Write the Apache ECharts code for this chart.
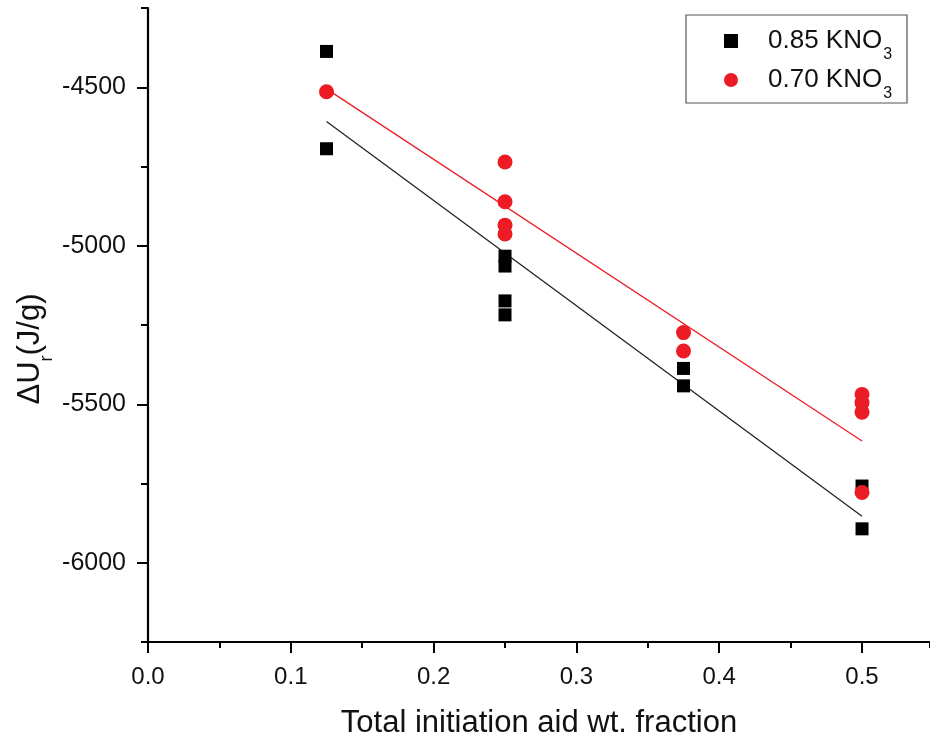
<!DOCTYPE html>
<html>
<head>
<meta charset="utf-8">
<script src="https://cdn.jsdelivr.net/npm/echarts@6/dist/echarts.min.js"></script>
<style>
html,body{margin:0;padding:0;background:#fff;}
#chart{width:930px;height:738px;}
</style>
</head>
<body>
<div id="chart"></div>
<script>
// ---- data ----
const fracBlack = [0.125, 0.125, 0.25, 0.25, 0.25, 0.25, 0.375, 0.375, 0.5, 0.5];
const duBlack   = [-4387, -4694, -5033, -5064, -5174, -5218, -5387, -5442, -5758, -5893];
const fracRed   = [0.125, 0.25, 0.25, 0.25, 0.25, 0.375, 0.375, 0.5, 0.5, 0.5, 0.5];
const duRed     = [-4514, -4736, -4861, -4935, -4963, -5274, -5332, -5469, -5495, -5525, -5778];
const fitX      = [0.125, 0.5];
const fitBlack  = [-4608, -5853];
const fitRed    = [-4505, -5616];
const seriesNames = ['0.85 KNO3', '0.70 KNO3'];
const legendMain  = ['0.85 KNO', '0.70 KNO'];
const legendSub   = ['3', '3'];
const xTitle = 'Total initiation aid wt. fraction';

const FONT = 'Liberation Sans';
const RED = '#ed1c24';

const pairs = (xs, ys) => xs.map((x, i) => [x, ys[i]]);

const chart = echarts.init(document.getElementById('chart'), null, {renderer: 'canvas'});
chart.setOption({
  animation: false,
  backgroundColor: '#fff',
  grid: [
    {left: 148, right: 0, top: 8, bottom: 96, containLabel: false, outerBoundsMode: 'none'},
    {left: 148, width: 714, top: 87.25, bottom: 175.25, containLabel: false, outerBoundsMode: 'none'}
  ],
  graphic: [{
    type: 'rect', z: 10,
    shape: {x: 686, y: 15, width: 221, height: 88},
    style: {fill: 'none', stroke: '#555', lineWidth: 1.2}
  }],
  xAxis: [
    {
      gridIndex: 0, type: 'value', min: 0, max: 0.5476, interval: 0.05,
      axisLine: {show: true, lineStyle: {color: '#000', width: 2.2}},
      axisTick: {show: true, length: 6, lineStyle: {color: '#000', width: 2}},
      axisLabel: {show: false},
      splitLine: {show: false},
      name: xTitle, nameLocation: 'middle', nameGap: 66,
      nameTextStyle: {fontFamily: FONT, fontSize: 31, color: '#111', verticalAlign: 'top'}
    },
    {
      gridIndex: 1, type: 'value', min: 0, max: 0.5, interval: 0.1, offset: 79.25,
      axisLine: {show: false},
      axisTick: {show: true, length: 11, lineStyle: {color: '#000', width: 2}},
      axisLabel: {show: true, margin: 23, fontFamily: FONT, fontSize: 24, color: '#111',
        formatter: v => v.toFixed(1)},
      splitLine: {show: false}
    }
  ],
  yAxis: [
    {
      gridIndex: 0, type: 'value', min: -6250, max: -4250, interval: 250,
      axisLine: {show: true, lineStyle: {color: '#000', width: 2.2}},
      axisTick: {show: true, length: 7, lineStyle: {color: '#000', width: 2}},
      axisLabel: {show: false},
      splitLine: {show: false},
      name: '{a|ΔU}{s|r}{a|(J/g)}', nameLocation: 'middle', nameGap: 102,
      nameTextStyle: {
        fontFamily: FONT, color: '#111', padding: [0, 48, 0, 0],
        rich: {
          a: {fontFamily: FONT, fontSize: 31, color: '#111'},
          s: {fontFamily: FONT, fontSize: 18, color: '#111', verticalAlign: 'bottom', padding: [0, 0, -10, 0]}
        }
      }
    },
    {
      gridIndex: 1, type: 'value', min: -6000, max: -4500, interval: 500,
      axisLine: {show: false},
      axisTick: {show: true, length: 11, lineStyle: {color: '#000', width: 2}},
      axisLabel: {show: true, margin: 22, fontFamily: FONT, fontSize: 25, color: '#111',
        formatter: v => String(v)},
      splitLine: {show: false}
    }
  ],
  legend: {
    left: 686, top: 15, orient: 'vertical',
    padding: [13, 15, 2, 38],
    borderWidth: 0,
    itemWidth: 14, itemHeight: 14, itemGap: 4,
    data: [{name: seriesNames[0], icon: 'rect'}, {name: seriesNames[1], icon: 'circle'}],
    formatter: name => {
      const i = seriesNames.indexOf(name);
      return '{t|' + legendMain[i] + '}{s|' + legendSub[i] + '}';
    },
    textStyle: {
      rich: {
        t: {fontFamily: FONT, fontSize: 26, color: '#111', padding: [0, 0, 0, 25], lineHeight: 26},
        s: {fontFamily: FONT, fontSize: 16, color: '#111', verticalAlign: 'bottom', padding: [0, 0, -9, 1]}
      }
    }
  },
  series: [
    {
      name: 'fitBlack', type: 'line', xAxisIndex: 0, yAxisIndex: 0,
      data: pairs(fitX, fitBlack), symbol: 'none', silent: true,
      lineStyle: {color: '#222', width: 1.3}, z: 1
    },
    {
      name: 'fitRed', type: 'line', xAxisIndex: 0, yAxisIndex: 0,
      data: pairs(fitX, fitRed), symbol: 'none', silent: true,
      lineStyle: {color: RED, width: 1.3}, z: 1
    },
    {
      name: seriesNames[0], type: 'scatter', xAxisIndex: 0, yAxisIndex: 0,
      data: pairs(fracBlack, duBlack), symbol: 'rect', symbolSize: 13,
      itemStyle: {color: '#000', opacity: 1}, z: 3
    },
    {
      name: seriesNames[1], type: 'scatter', xAxisIndex: 0, yAxisIndex: 0,
      data: pairs(fracRed, duRed), symbol: 'circle', symbolSize: 15,
      itemStyle: {color: RED, opacity: 1}, z: 4
    }
  ]
});
</script>
</body>
</html>
